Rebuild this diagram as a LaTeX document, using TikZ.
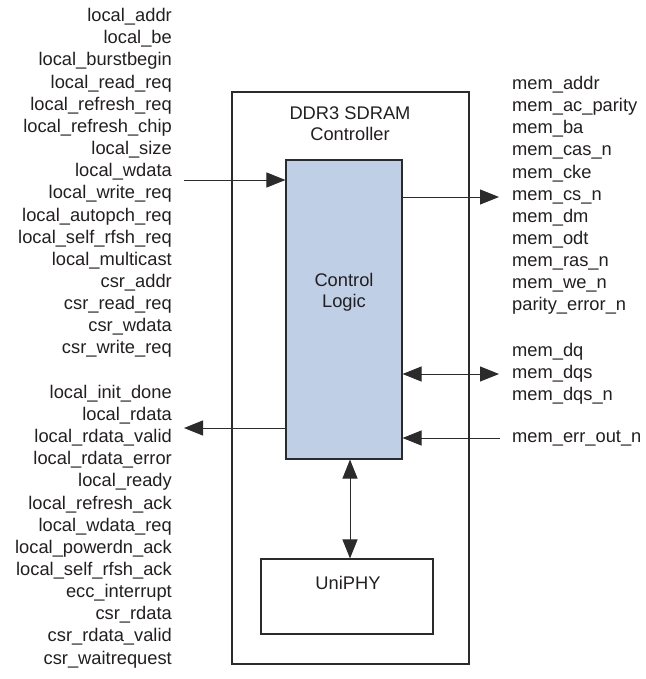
\documentclass[tikz,border=0pt]{standalone}
\usepackage{fontspec}
\setmainfont{Liberation Sans}
\usepackage{tikz}
\usetikzlibrary{arrows.meta,positioning}
\definecolor{ctrlblue}{HTML}{BFD0E6}
\definecolor{linegray}{HTML}{2B2B2B}
\definecolor{textgray}{HTML}{231F20}

\begin{document}
\begin{tikzpicture}[
    x=1pt, y=-1pt,
    sig/.style={font=\fontsize{18.3}{21.5}\selectfont, text=textgray, inner sep=0pt},
    lsig/.style={sig, anchor=base east},
    rsig/.style={sig, anchor=base west},
    box/.style={draw=linegray, line width=1.1pt, inner sep=0pt},
    arrow/.style={draw=linegray, line width=1pt, -{Triangle[length=19pt, width=15pt]}},
    biarrow/.style={arrow, {Triangle[length=19pt, width=15pt]}-{Triangle[length=19pt, width=15pt]}},
]
\useasboundingbox (0,0) rectangle (645,679);

% ===== CONTROLLER =====
\node[box, minimum width=237pt, minimum height=572pt] (ctrl) at (350.5, 378) {};
\node[sig, align=center] (ctrltitle) at (350, 123.5) {DDR3 SDRAM\\Controller};

\node[box, fill=ctrlblue, minimum width=116pt, minimum height=299pt] (logic) at (344, 309.5) {};
\node[sig, align=center] (logictext) at (344, 292.5) {Control\\Logic};

\node[box, minimum width=172pt, minimum height=75pt] (uniphy) at (347, 596.5) {};
\node[sig] (uniphytext) at (348, 583) {UniPHY};

\draw[biarrow] ([xshift=6pt]logic.south) -- ([xshift=6pt]logic.south |- uniphy.north);

% ===== LOCAL SIDE =====
\foreach \lbl [count=\i from 0] in {local\_addr, local\_be, local\_burstbegin,
    local\_read\_req, local\_refresh\_req, local\_refresh\_chip, local\_size,
    local\_wdata, local\_write\_req, local\_autopch\_req, local\_self\_rfsh\_req,
    local\_multicast, csr\_addr, csr\_read\_req, csr\_wdata, csr\_write\_req}
    \node[lsig] (in\i) at (172, {21.7+22.15*\i}) {\lbl};

\foreach \lbl [count=\i from 0] in {local\_init\_done, local\_rdata,
    local\_rdata\_valid, local\_rdata\_error, local\_ready, local\_refresh\_ack,
    local\_wdata\_req, local\_powerdn\_ack, local\_self\_rfsh\_ack, ecc\_interrupt,
    csr\_rdata, csr\_rdata\_valid, csr\_waitrequest}
    \node[lsig] (out\i) at (172, {21.7+22.15*(\i+17)}) {\lbl};

\coordinate (wdata_in) at (184, 180);
\coordinate (rdata_out) at (184, 428);
\draw[arrow] (wdata_in) -- (wdata_in -| logic.west);
\draw[arrow] (logic.west |- rdata_out) -- (rdata_out);

% ===== MEMORY SIDE =====
\foreach \lbl [count=\i from 0] in {mem\_addr, mem\_ac\_parity, mem\_ba,
    mem\_cas\_n, mem\_cke, mem\_cs\_n, mem\_dm, mem\_odt, mem\_ras\_n,
    mem\_we\_n, parity\_error\_n}
    \node[rsig] (cmd\i) at (512, {89.7+22.1*\i}) {\lbl};

\foreach \lbl [count=\i from 0] in {mem\_dq, mem\_dqs, mem\_dqs\_n}
    \node[rsig] (dq\i) at (512, {356.7+22*\i}) {\lbl};

\node[rsig] (errn) at (512, 442.7) {mem\_err\_out\_n};

\coordinate (cmd_out) at (499, 197);
\coordinate (dq_io) at (499, 374);
\coordinate (err_in) at (500, 438);
\draw[arrow] (logic.east |- cmd_out) -- (cmd_out);
\draw[biarrow] (logic.east |- dq_io) -- (dq_io);
\draw[arrow] (err_in) -- (logic.east |- err_in);

\end{tikzpicture}
\end{document}
